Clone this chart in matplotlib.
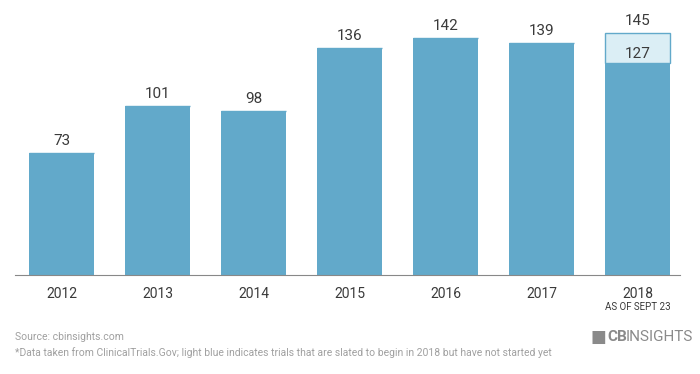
import matplotlib
matplotlib.use("Agg")
import matplotlib.pyplot as plt

# Clinical trials per year (2018 as of Sept 23)
years = ["2012", "2013", "2014", "2015", "2016", "2017", "2018"]
started = [73, 101, 98, 136, 142, 139, 127]
slated = [0, 0, 0, 0, 0, 0, 18]  # light blue: slated to begin in 2018

BAR = "#62a9ca"
LIGHT = "#dbeef5"
TXT = "#3a3a3a"
GRAY = "#a0a0a0"

plt.rcParams["font.family"] = ["Roboto", "DejaVu Sans"]

fig = plt.figure(figsize=(7, 3.74), dpi=100)
ax = fig.add_axes([0.021, 0.265, 0.95, 0.714])

x = list(range(len(years)))
ax.bar(x, started, width=0.68, color=BAR, zorder=2)
ax.bar(x, slated, bottom=started, width=0.68, color=LIGHT,
       edgecolor=BAR, linewidth=1, zorder=1)

for i, (s, l) in enumerate(zip(started, slated)):
    total = s + l
    ax.text(i, total + 3, str(total), ha="center", va="bottom",
            fontsize=11, color=TXT)
    if l:
        ax.text(i, s + 1, str(s), ha="center", va="bottom",
                fontsize=11, color=TXT)

ax.set_xlim(-0.49, 6.44)
ax.set_ylim(0, 160)
ax.set_xticks(x)
ax.set_xticklabels(years, fontsize=10, color=TXT)
ax.tick_params(axis="x", length=0, pad=9)
ax.set_yticks([])
for side in ["top", "right", "left"]:
    ax.spines[side].set_visible(False)
ax.spines["bottom"].set_color("#888888")

fig.text(638 / 700, 1 - 307 / 374, "AS OF SEPT 23", ha="center", va="center",
         fontsize=7, color=TXT)
fig.text(15 / 700, 1 - 337 / 374, "Source: cbinsights.com", ha="left",
         va="center", fontsize=7.5, color=GRAY)
fig.text(15 / 700, 1 - 353 / 374,
         "*Data taken from ClinicalTrials.Gov; light blue indicates trials that are "
         "slated to begin in 2018 but have not started yet",
         ha="left", va="center", fontsize=7.5, color=GRAY)
fig.text(607 / 700, 1 - 337 / 374, "CB", ha="left", va="center",
         fontsize=11, fontweight="bold", color="#8a8a8a")
fig.text(626 / 700, 1 - 337 / 374, "INSIGHTS", ha="left", va="center",
         fontsize=11, color="#8a8a8a")
fig.text(590 / 700, 1 - 337 / 374, "\u25a0", ha="left", va="center",
         fontsize=12, color="#8a8a8a")

fig.savefig("out.png", dpi=100)
